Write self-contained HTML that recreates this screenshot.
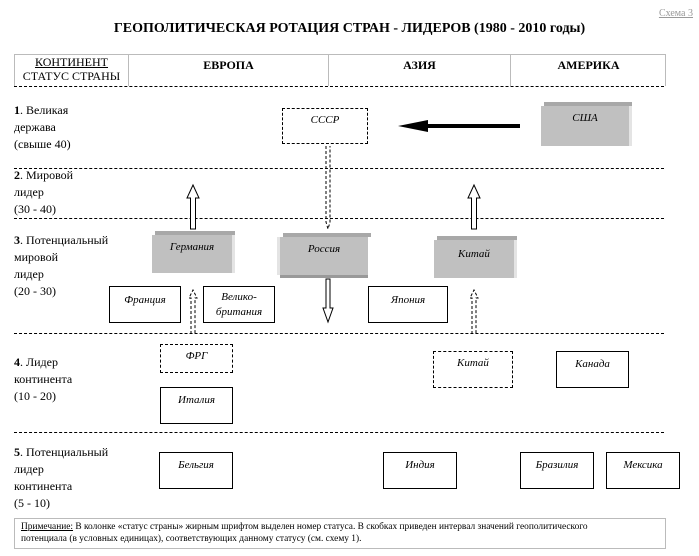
<!DOCTYPE html>
<html><head><meta charset="utf-8"><style>
body{margin:0;width:699px;height:556px;background:#fff;position:relative;overflow:hidden;font-family:"Liberation Serif","DejaVu Serif",serif;color:#000}
.a{position:absolute}
.lbl{position:absolute;left:14px;font-size:12px;line-height:17px;white-space:nowrap}
.box{position:absolute;border:1px solid #000;box-sizing:border-box;font-style:italic;font-size:11px;text-align:center;padding-top:5px;line-height:15px;background:#fff}
.dbox{position:absolute;border:1px dashed #000;box-sizing:border-box;font-style:italic;font-size:11px;text-align:center;padding-top:5px;background:#fff}
.hl{position:absolute;left:14px;width:650px;height:0;border-top:1px dashed #000}
.g{position:absolute;background:#c0c0c0;font-style:italic;font-size:11px;text-align:center;box-sizing:border-box;padding-top:6px;box-shadow:3px 0 0 #e4e4e4}
.g:before{content:"";position:absolute;left:3px;right:-3px;top:-4px;height:4px;background:#a8a8a8}
.th{position:absolute;top:54px;height:32px;border-left:1px solid #bbb;box-sizing:border-box;font-weight:bold;font-size:12px;text-align:center;padding-top:4px}
</style></head><body>
<div class="a" style="right:6px;top:8px;font-size:10px;color:#999;text-decoration:underline">Схема 3</div>
<div class="a" style="left:0;width:699px;top:21px;text-align:center;font-weight:bold;font-size:14px">ГЕОПОЛИТИЧЕСКАЯ РОТАЦИЯ СТРАН - ЛИДЕРОВ (1980 - 2010 годы)</div>
<div class="a" style="left:14px;top:54px;width:652px;height:32px;border:1px solid #bbb;border-bottom:none;box-sizing:border-box"></div>
<div class="a" style="left:15px;top:55px;width:113px;text-align:center;font-size:12px;line-height:14px"><u>КОНТИНЕНТ</u><br>СТАТУС СТРАНЫ</div>
<div class="th" style="left:128px;width:200px">ЕВРОПА</div>
<div class="th" style="left:328px;width:182px">АЗИЯ</div>
<div class="th" style="left:510px;width:156px">АМЕРИКА</div>
<div class="hl" style="top:86px"></div>
<div class="hl" style="top:168px"></div>
<div class="hl" style="top:218px"></div>
<div class="hl" style="top:333px"></div>
<div class="hl" style="top:432px"></div>

<div class="lbl" style="top:102px"><b>1</b>. Великая<br>держава<br>(свыше 40)</div>
<div class="lbl" style="top:167px"><b>2</b>. Мировой<br>лидер<br>(30 - 40)</div>
<div class="lbl" style="top:232px"><b>3</b>. Потенциальный<br>мировой<br>лидер<br>(20 - 30)</div>
<div class="lbl" style="top:354px"><b>4</b>. Лидер<br>континента<br>(10 - 20)</div>
<div class="lbl" style="top:444px"><b>5</b>. Потенциальный<br>лидер<br>континента<br>(5 - 10)</div>

<div class="dbox" style="left:282px;top:108px;width:86px;height:36px">СССР</div>
<div class="g" style="left:541px;top:106px;width:88px;height:40px">США</div>
<svg class="a" style="left:0;top:0" width="699" height="556">
<line x1="520" y1="126" x2="420" y2="126" stroke="#000" stroke-width="4"/>
<polygon points="398,126 428,120 428,132" fill="#000"/>
<g fill="#fff" stroke="#000" stroke-width="1">
<polygon points="190.5,229 190.5,198 187,198 193,185 199,198 195.5,198 195.5,229"/>
<polygon points="471.5,229 471.5,198 468,198 474,185 480,198 476.5,198 476.5,229"/>
<polygon points="326,279 326,308 323,308 328,322 333,308 330,308 330,279"/>
</g>
<g fill="none" stroke="#000" stroke-width="1" stroke-dasharray="3,2">
<polyline points="326,146 326,222 328,229 330,222 330,146"/>
<polyline points="191,334 191,298 189,298 193,290 197,298 195,298 195,334"/>
<polyline points="472,334 472,298 470,298 474,290 478,298 476,298 476,334"/>
</g>
</svg>
<div class="g" style="left:152px;top:235px;width:80px;height:38px">Германия</div>
<div class="g" style="left:280px;top:237px;width:88px;height:38px;box-shadow:-3px 0 0 #e4e4e4,0 3px 0 #999">Россия</div>
<div class="g" style="left:434px;top:240px;width:80px;height:38px;padding-top:8px">Китай</div>

<div class="box" style="left:109px;top:286px;width:72px;height:37px;padding-top:6px">Франция</div>
<div class="box" style="left:203px;top:286px;width:72px;height:37px;padding-top:3px">Велико-<br>британия</div>
<div class="box" style="left:368px;top:286px;width:80px;height:37px;padding-top:6px">Япония</div>
<div class="dbox" style="left:160px;top:344px;width:73px;height:29px">ФРГ</div>
<div class="dbox" style="left:433px;top:351px;width:80px;height:37px">Китай</div>
<div class="box" style="left:556px;top:351px;width:73px;height:37px">Канада</div>
<div class="box" style="left:160px;top:387px;width:73px;height:37px">Италия</div>
<div class="box" style="left:159px;top:452px;width:74px;height:37px">Бельгия</div>
<div class="box" style="left:383px;top:452px;width:74px;height:37px">Индия</div>
<div class="box" style="left:520px;top:452px;width:74px;height:37px">Бразилия</div>
<div class="box" style="left:606px;top:452px;width:74px;height:37px">Мексика</div>

<div class="a" style="left:14px;top:518px;width:652px;height:31px;border:1px solid #bbb;box-sizing:border-box;font-size:9.4px;line-height:12px;padding:2px 6px;white-space:nowrap"><u>Примечание:</u> В колонке «статус страны» жирным шрифтом выделен номер статуса. В скобках приведен интервал значений геополитического<br>потенциала (в условных единицах), соответствующих данному статусу (см. схему 1).</div>
</body></html>
